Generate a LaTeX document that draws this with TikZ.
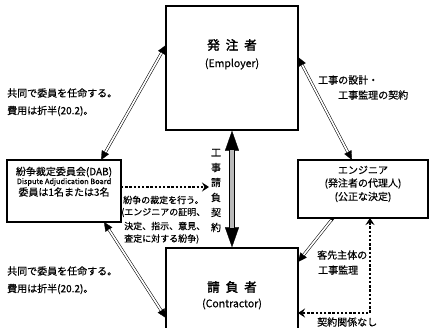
\documentclass[tikz,border=0pt]{standalone}
\usepackage{fontspec}
\setmainfont[FakeBold=0.5]{Noto Sans CJK JP}
\newfontfamily\boldjp[FakeBold=2.4]{Noto Sans CJK JP}
\usetikzlibrary{arrows.meta}
\begin{document}
\begin{tikzpicture}[x=1pt,y=-1pt,
  box/.style={draw, line width=1.4pt, inner sep=0pt},
  ttl/.style={font=\boldjp\fontsize{12.5}{14}\selectfont, inner sep=0pt},
  sub/.style={font=\fontsize{10.5}{12}\selectfont, inner sep=0pt},
  txt/.style={font=\fontsize{10}{12}\selectfont, inner sep=0pt},
  lbl/.style={font=\fontsize{10}{12}\selectfont, inner sep=0pt, anchor=west},
  smalllbl/.style={font=\fontsize{9}{10}\selectfont, inner sep=0pt, anchor=west},
  tipline/.style={line width=0.3pt, {Triangle[length=9pt,width=8pt]}-{Triangle[length=9pt,width=8pt]}},
  tiponeline/.style={line width=0.3pt, {Square[length=3pt,width=3pt]}-{Triangle[length=9pt,width=8pt]}},
  dbl/.style={double, double distance=1.7pt, line width=0.55pt},
  dotarrow/.style={line width=2.8pt, dash pattern=on 2.4pt off 1.8pt, line cap=butt}
]
\useasboundingbox (0,0) rectangle (430,327);
\clip (0,0) rectangle (430,327);

% boxes
\node[box, minimum width=132pt, minimum height=124pt] (emp) at (232,68) {};
\node[box, minimum width=132pt, minimum height=100pt] (con) at (232,298) {};
\node[box, minimum width=114pt, minimum height=62pt] (dab) at (64,191) {};
\node[box, minimum width=130pt, minimum height=58pt] (eng) at (363,189) {};

% box texts
\node[ttl] (empT) at (232,45) {発\hspace{6pt}注\hspace{6pt}者};
\node[sub] (empE) at (232,64) {(Employer)};
\node[ttl] (conT) at (232,287) {請\hspace{6pt}負\hspace{6pt}者};
\node[sub] (conE) at (232,304) {(Contractor)};
\node[txt] (dab1) at (64,172) {紛争裁定委員会(DAB)};
\node[font=\fontsize{7.4}{8}\selectfont, inner sep=0pt] (dab2) at (64,182) {Dispute Adjudication Board};
\node[txt] (dab3) at (64,192) {委員は1名または3名};
\node[txt] (eng1) at (363,170) {エンジニア};
\node[txt] (eng2) at (363,183.5) {(発注者の代理人)};
\node[txt] (eng3) at (363,197) {(公正な決定)};

% labels
\node[lbl] (l1) at (7,93) {共同で委員を任命する。};
\node[lbl] (l2) at (7,111) {費用は折半(20.2)。};
\node[lbl] (l3) at (7,271) {共同で委員を任命する。};
\node[lbl] (l4) at (7,289) {費用は折半(20.2)。};
\node[lbl] (l5) at (318,80) {工事の設計・};
\node[lbl] (l6) at (338,95) {工事監理の契約};
\node[smalllbl] (l7) at (123,200) {紛争の裁定を行う。};
\node[smalllbl] (l8) at (121,212.5) {(エンジニアの証明、};
\node[smalllbl] (l9) at (124,226) {決定、指示、意見、};
\node[smalllbl] (l10) at (124,239) {査定に対する紛争)};
\node[lbl] (l11) at (317,255) {客先主体の};
\node[lbl] (l12) at (318,270) {工事監理};
\node[lbl] (l13) at (317,322) {契約関係なし};
\node[txt, align=center, font=\fontsize{10}{15}\selectfont] (vt) at (216,190.5) {工\\事\\請\\負\\契\\約};

% connector coordinates
\coordinate (dabTop) at (101,160);
\coordinate (empLeft) at (166,45);
\coordinate (dabBot) at (104,222);
\coordinate (conLeft) at (166,318);
\coordinate (empRight) at (298,57);
\coordinate (engTop) at (352,160);
\coordinate (engBot) at (333,218);
\coordinate (conRightA) at (298,262);
\coordinate (engBot2) at (370,218);
\coordinate (turn) at (370,313);
\coordinate (conRightB) at (298,313);
\coordinate (dabRight) at (121,187);
\coordinate (vtLeft) at (209,187);

% double-line arrows
\draw[tipline] (dabTop) -- (empLeft);
\draw[dbl, shorten <=9pt, shorten >=9pt] (dabTop) -- (empLeft);
\draw[tipline] (dabBot) -- (conLeft);
\draw[dbl, shorten <=9pt, shorten >=9pt] (dabBot) -- (conLeft);
\draw[tipline] (empRight) -- (engTop);
\draw[dbl, shorten <=9pt, shorten >=9pt] (empRight) -- (engTop);
\draw[tiponeline] (engBot) -- (conRightA);
\draw[dbl, shorten <=2.5pt, shorten >=9pt] (engBot) -- (conRightA);

% main contract arrow
\draw[line width=0.3pt, {Triangle[length=20pt,width=14pt]}-{Triangle[length=20pt,width=14pt]}] (emp.south) -- (con.north);
\draw[draw=black, line width=1pt, double=gray!55, double distance=3.5pt, shorten <=19.5pt, shorten >=19.5pt] (emp.south) -- (con.north);

% dotted arrows
\draw[dotarrow, -{Stealth[length=7pt,width=9pt,inset=2.5pt]}] (dabRight) -- (vtLeft);
\draw[dotarrow, {Stealth[length=7pt,width=9pt,inset=2.5pt]}-{Stealth[length=7pt,width=9pt,inset=2.5pt]}] (engBot2) -- (turn) -- (conRightB);
\end{tikzpicture}
\end{document}
